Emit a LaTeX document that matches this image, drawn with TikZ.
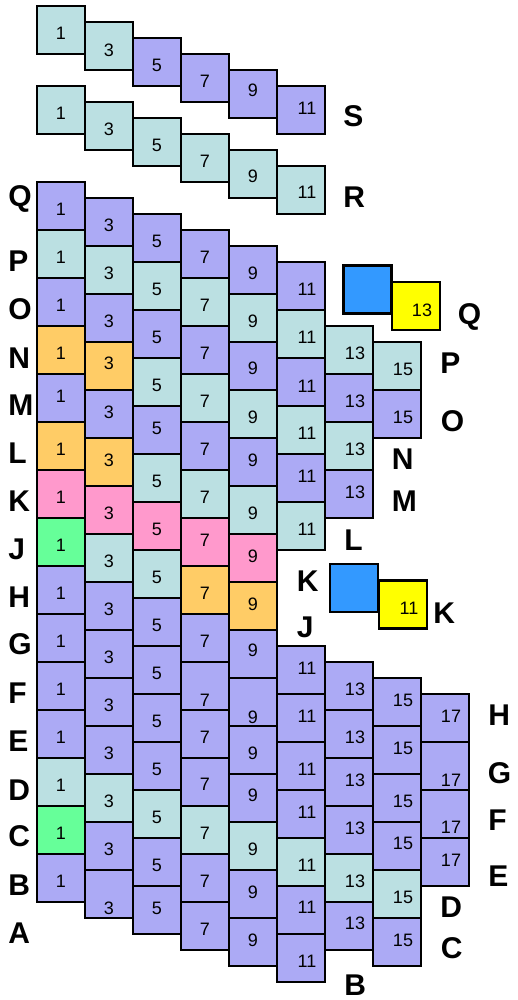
\documentclass[tikz,border=0pt]{standalone}
\usepackage{fontspec}
\setmainfont{Liberation Sans}
\definecolor{cpu}{RGB}{172,170,245}
\definecolor{ccy}{RGB}{187,224,226}
\definecolor{cor}{RGB}{255,204,102}
\definecolor{cpk}{RGB}{255,153,204}
\definecolor{cgr}{RGB}{102,255,153}
\definecolor{cbl}{RGB}{51,153,255}
\definecolor{cye}{RGB}{255,255,0}
\tikzset{
  sqbox/.style={draw=black, line width=1.3pt, minimum size=24pt, inner sep=0pt, outer sep=0pt},
  bluebox/.style={draw=black, line width=1.1pt, fill=cbl, minimum size=24pt, inner sep=0pt, outer sep=0pt},
  numlbl/.style={font=\fontsize{9}{9}\selectfont, inner sep=0pt},
  letlbl/.style={font=\fontsize{15}{15}\selectfont\bfseries, inner sep=0pt, anchor=base west},
}
\newcommand\cellc[6]{%
  \node[sqbox, fill=#4] (#1) at (#2,#3) {};
  \ifnum#5>9\relax
    \node[numlbl, shift={(6,#6)}] (#1-t) at (#1.center) {#5};
  \else
    \node[numlbl, shift={(0,#6)}] (#1-t) at (#1.center) {#5};
  \fi}
\newcommand\mc[4]{\cellc{m#1-#2}{\the\numexpr13+48*#1\relax}{\the\numexpr190+16*#1+48*#2\relax}{#3}{\the\numexpr2*#1-1\relax}{#4}}
\newcommand\scell[3]{\cellc{s#1}{\the\numexpr13+48*#1\relax}{\the\numexpr14+16*#1\relax}{#2}{\the\numexpr2*#1-1\relax}{#3}}
\newcommand\rcell[3]{\cellc{r#1}{\the\numexpr13+48*#1\relax}{\the\numexpr94+16*#1\relax}{#2}{\the\numexpr2*#1-1\relax}{#3}}
\begin{document}
\begin{tikzpicture}[x=0.5pt,y=-0.5pt]
\useasboundingbox (0,0) rectangle (518,1000);
% row S
\foreach \c/\f/\d in {1/ccy/3,2/ccy/4,3/cpu/3.7,4/cpu/3,5/cpu/-4,6/cpu/-2}{\scell{\c}{\f}{\d}}
% row R
\foreach \c/\d in {1/3.3,2/3.3,3/3,4/3.7,5/2.7,6/2}{\rcell{\c}{ccy}{\d}}
% main block
\foreach \k/\f/\d in {0/cpu/3.5,1/ccy/3.5,2/cpu/3.5,3/cor/3.5,4/cpu/-2,5/cor/3.5,6/cpk/3.5,7/cgr/3.5,8/cpu/3.5,9/cpu/3.5,10/cpu/3.5,11/cpu/3.5,12/ccy/3.5,13/cgr/3.5,14/cpu/3.5}{\mc{1}{\k}{\f}{\d}}
\foreach \k/\f/\d in {0/cpu/3.5,1/ccy/3.5,2/cpu/3.5,3/cor/-2.5,4/cpu/-2,5/cor/-2,6/cpk/3.5,7/ccy/3.5,8/cpu/3.5,9/cpu/3.5,10/cpu/3.5,11/cpu/3.5,12/ccy/3.5,13/cpu/3.5,14/cpu/14}{\mc{2}{\k}{\f}{\d}}
\foreach \k/\f/\d in {0/cpu/3.5,1/ccy/3.5,2/cpu/3.5,3/ccy/3.5,4/cpu/-2,5/ccy/3.5,6/cpk/3.5,7/ccy/3.5,8/cpu/3.5,9/cpu/3.5,10/cpu/3.5,11/cpu/3.5,12/ccy/3.5,13/cpu/3.5,14/cpu/-2}{\mc{3}{\k}{\f}{\d}}
\foreach \k/\f/\d in {0/cpu/3.5,1/ccy/3.5,2/cpu/3.5,3/ccy/3.5,4/cpu/3.5,5/ccy/3.5,6/cpk/-2,7/cor/3.5,8/cpu/3.5,9/cpu/14,10/cpu/3.5,11/cpu/2.5,12/ccy/3.5,13/cpu/3.5,14/cpu/3.5}{\mc{4}{\k}{\f}{\d}}
\foreach \k/\f/\d in {0/cpu/3.5,1/ccy/3.5,2/cpu/2,3/ccy/3.5,4/cpu/-2,5/ccy/3.5,6/cpk/-2,7/cor/-2,8/cpu/-4,9/cpu/15,10/cpu/3.5,11/cpu/-3,12/ccy/3.5,13/cpu/-2,14/cpu/-2}{\mc{5}{\k}{\f}{\d}}
\foreach \k/\f/\d in {0/cpu/3.5,1/ccy/3.5,2/cpu/4,3/ccy/3.5,4/cpu/-2,5/ccy/3.5,8/cpu/-2,9/cpu/-2,10/cpu/3.5,11/cpu/-2,12/ccy/3.5,13/cpu/-3,14/cpu/3.5}{\mc{6}{\k}{\f}{\d}}
\foreach \k/\f/\d in {1/ccy/3.5,2/cpu/3.5,3/ccy/3.5,4/cpu/-2,8/cpu/3.5,9/cpu/3.5,10/cpu/-2,11/cpu/-2,12/ccy/3.5,13/cpu/-3}{\mc{7}{\k}{\f}{\d}}
\foreach \k/\f/\d in {1/ccy/3.5,2/cpu/3.5,8/cpu/-2,9/cpu/-2,10/cpu/3.5,11/cpu/-3,12/ccy/3.5,13/cpu/-2}{\mc{8}{\k}{\f}{\d}}
\foreach \k/\f/\d in {8/cpu/-2,9/cpu/14,10/cpu/13,11/cpu/-2}{\mc{9}{\k}{\f}{\d}}
% blue / yellow pairs
\node[bluebox] (bq) at (367.5,289.5) {};
\cellc{yq}{416}{306}{cye}{13}{4}
\node[bluebox] (bk) at (354,588) {};
\cellc{yk}{403}{604.5}{cye}{11}{4}
% left letters
\foreach \n/\b in {Q/206,P/271.5,O/319.5,N/368,M/415,L/463,K/511.5,J/559,H/607.5,G/654.5,F/703,E/751.5,D/800,C/846,B/895,A/943}{\node[letlbl] (l\n) at (8,\b) {\n};}
% right letters
\node[letlbl] (rS) at (343,127) {S};
\node[letlbl] (rR) at (343,207) {R};
\node[letlbl] (rQ) at (457.5,324) {Q};
\node[letlbl] (rP) at (440,373) {P};
\node[letlbl] (rO) at (440.5,431) {O};
\node[letlbl] (rN) at (391.5,469) {N};
\node[letlbl] (rM) at (391.5,511.5) {M};
\node[letlbl] (rL) at (344,550) {L};
\node[letlbl] (rK1) at (296.5,591.5) {K};
\node[letlbl] (rK2) at (433,623) {K};
\node[letlbl] (rJ) at (296.5,637.5) {J};
\node[letlbl] (rH) at (488,725) {H};
\node[letlbl] (rG) at (487.5,783) {G};
\node[letlbl] (rF) at (488,830.5) {F};
\node[letlbl] (rE) at (488,886) {E};
\node[letlbl] (rD) at (440,917) {D};
\node[letlbl] (rC) at (440.5,958) {C};
\node[letlbl] (rB) at (344,995.5) {B};
\end{tikzpicture}
\end{document}
